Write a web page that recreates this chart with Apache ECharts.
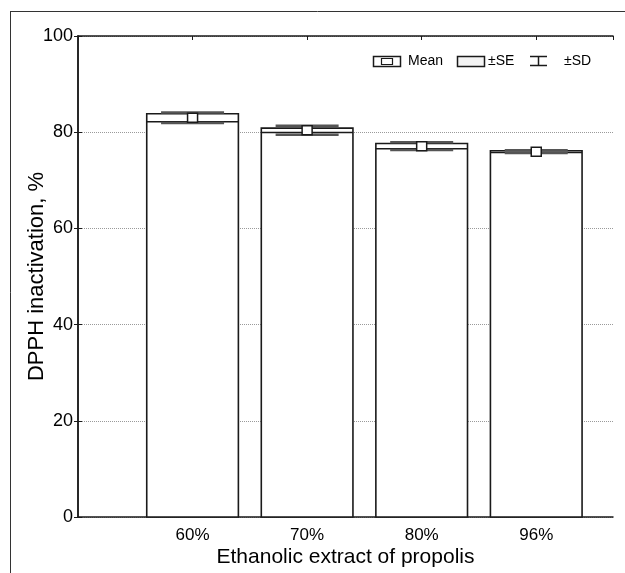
<!DOCTYPE html>
<html>
<head>
<meta charset="utf-8">
<script src="https://cdn.jsdelivr.net/npm/echarts@6/dist/echarts.min.js"></script>
<style>
html,body{margin:0;padding:0;background:#fff;}
#chart{width:625px;height:573px;}
</style>
</head>
<body>
<div id="chart"></div>
<script>
const categories = ['60%', '70%', '80%', '96%'];
const means = [83.0, 80.4, 77.1, 75.95];
const seValues = [0.85, 0.45, 0.55, 0.18];
const sdValues = [1.1, 0.95, 0.8, 0.3];
const yTicks = [0, 20, 40, 60, 80, 100];
const legendLabels = ['Mean', '±SE', '±SD'];

const FONT = '"Liberation Sans", Arial, sans-serif';
const INK = '#1a1a1a';

const seriesData = categories.map((c, i) => [i + 1, means[i], seValues[i], sdValues[i]]);

const chart = echarts.init(document.getElementById('chart'), null, {renderer: 'canvas'});

function renderItem(params, api) {
  const x = api.value(0), m = api.value(1), se = api.value(2), sd = api.value(3);
  const barW = api.size([0.8, 0])[0];
  const whW = api.size([0.55, 0])[0];
  const base = api.coord([x, 0]);
  const top = api.coord([x, m + se]);
  const low = api.coord([x, m - se]);
  const mid = api.coord([x, m]);
  const sdTop = api.coord([x, m + sd]);
  const sdLow = api.coord([x, m - sd]);
  const cx = base[0];
  return {
    type: 'group',
    children: [
      {type: 'rect', shape: {x: cx - barW / 2, y: top[1], width: barW, height: base[1] - top[1]},
       style: {fill: '#fff', stroke: INK, lineWidth: 1.6}},
      {type: 'line', shape: {x1: cx - barW / 2, y1: low[1], x2: cx + barW / 2, y2: low[1]},
       style: {stroke: INK, lineWidth: 1.5}},
      {type: 'line', shape: {x1: cx, y1: sdTop[1], x2: cx, y2: sdLow[1]},
       style: {stroke: INK, lineWidth: 1.2}},
      {type: 'line', shape: {x1: cx - whW / 2, y1: sdTop[1], x2: cx + whW / 2, y2: sdTop[1]},
       style: {stroke: '#555', lineWidth: 2.5}},
      {type: 'line', shape: {x1: cx - whW / 2, y1: sdLow[1], x2: cx + whW / 2, y2: sdLow[1]},
       style: {stroke: '#555', lineWidth: 2.5}},
      {type: 'rect', shape: {x: cx - 5, y: mid[1] - 4.5, width: 10, height: 9},
       style: {fill: '#fff', stroke: INK, lineWidth: 1.5}}
    ]
  };
}

const xCommon = {
  type: 'value', min: 0, max: 4.67, interval: 1,
  axisLine: {show: true, onZero: false, lineStyle: {color: INK, width: 1.5}},
  axisTick: {show: true, inside: true, length: 4, lineStyle: {color: INK}},
  splitLine: {show: false}
};

const option = {
  animation: false,
  backgroundColor: '#fff',
  grid: {left: 78, right: 12, top: 36, bottom: 56, containLabel: false},
  xAxis: [
    Object.assign({}, xCommon, {
      position: 'bottom',
      name: 'Ethanolic extract of propolis', nameLocation: 'middle', nameGap: 30,
      nameMoveOverlap: false,
      nameTextStyle: {fontFamily: FONT, fontSize: 21, color: '#000'},
      axisLabel: {
        show: true, margin: 10, fontFamily: FONT, fontSize: 17, color: '#000',
        showMinLabel: false, showMaxLabel: false,
        formatter: v => (Number.isInteger(v) && categories[v - 1]) ? categories[v - 1] : ''
      }
    }),
    Object.assign({}, xCommon, {position: 'top', axisLabel: {show: false}})
  ],
  yAxis: [
    {
      type: 'value', min: yTicks[0], max: yTicks[yTicks.length - 1], interval: yTicks[1] - yTicks[0],
      position: 'left',
      name: 'DPPH inactivation, %', nameLocation: 'middle', nameGap: 30,
      nameMoveOverlap: false,
      nameTextStyle: {fontFamily: FONT, fontSize: 22, color: '#000'},
      axisLine: {show: true, lineStyle: {color: INK, width: 1.5}},
      axisTick: {show: true, inside: true, length: 4, lineStyle: {color: INK}},
      axisLabel: {fontFamily: FONT, fontSize: 18, color: '#000', margin: 5},
      splitLine: {show: true, lineStyle: {color: '#9a9a9a', type: [1, 1], width: 1}}
    },
    {
      type: 'value', min: yTicks[0], max: yTicks[yTicks.length - 1], interval: yTicks[1] - yTicks[0],
      position: 'right',
      axisLine: {show: true, lineStyle: {color: INK, width: 1.5}},
      axisTick: {show: true, inside: true, length: 4, lineStyle: {color: INK}},
      axisLabel: {show: false},
      splitLine: {show: false}
    }
  ],
  series: [{
    type: 'custom',
    xAxisIndex: 0, yAxisIndex: 0,
    renderItem: renderItem,
    data: seriesData,
    encode: {x: 0, y: 1},
    z: 5
  }],
  graphic: [
    {type: 'line', shape: {x1: 10, y1: 11.5, x2: 625, y2: 11.5}, style: {stroke: '#333', lineWidth: 1}},
    {type: 'line', shape: {x1: 10.5, y1: 11.5, x2: 10.5, y2: 573}, style: {stroke: '#333', lineWidth: 1}},
    {type: 'rect', shape: {x: 373.5, y: 56.5, width: 27, height: 10}, style: {fill: '#fff', stroke: INK, lineWidth: 1.5}},
    {type: 'rect', shape: {x: 381.5, y: 58.5, width: 11, height: 6}, style: {fill: '#fff', stroke: INK, lineWidth: 1.2}},
    {type: 'text', x: 408, y: 61.5, style: {text: legendLabels[0], font: '14px ' + FONT, fill: '#000', verticalAlign: 'middle'}},
    {type: 'rect', shape: {x: 457.5, y: 56.5, width: 27, height: 10}, style: {fill: '#f3f3f3', stroke: INK, lineWidth: 1.5}},
    {type: 'text', x: 488, y: 61.5, style: {text: legendLabels[1], font: '14px ' + FONT, fill: '#000', verticalAlign: 'middle'}},
    {type: 'line', shape: {x1: 530, y1: 56.5, x2: 547, y2: 56.5}, style: {stroke: INK, lineWidth: 1.5}},
    {type: 'line', shape: {x1: 538.5, y1: 56.5, x2: 538.5, y2: 65.5}, style: {stroke: INK, lineWidth: 1.5}},
    {type: 'line', shape: {x1: 530, y1: 65.5, x2: 547, y2: 65.5}, style: {stroke: INK, lineWidth: 1.5}},
    {type: 'text', x: 564, y: 61.5, style: {text: legendLabels[2], font: '14px ' + FONT, fill: '#000', verticalAlign: 'middle'}}
  ]
};

chart.setOption(option);
</script>
</body>
</html>
